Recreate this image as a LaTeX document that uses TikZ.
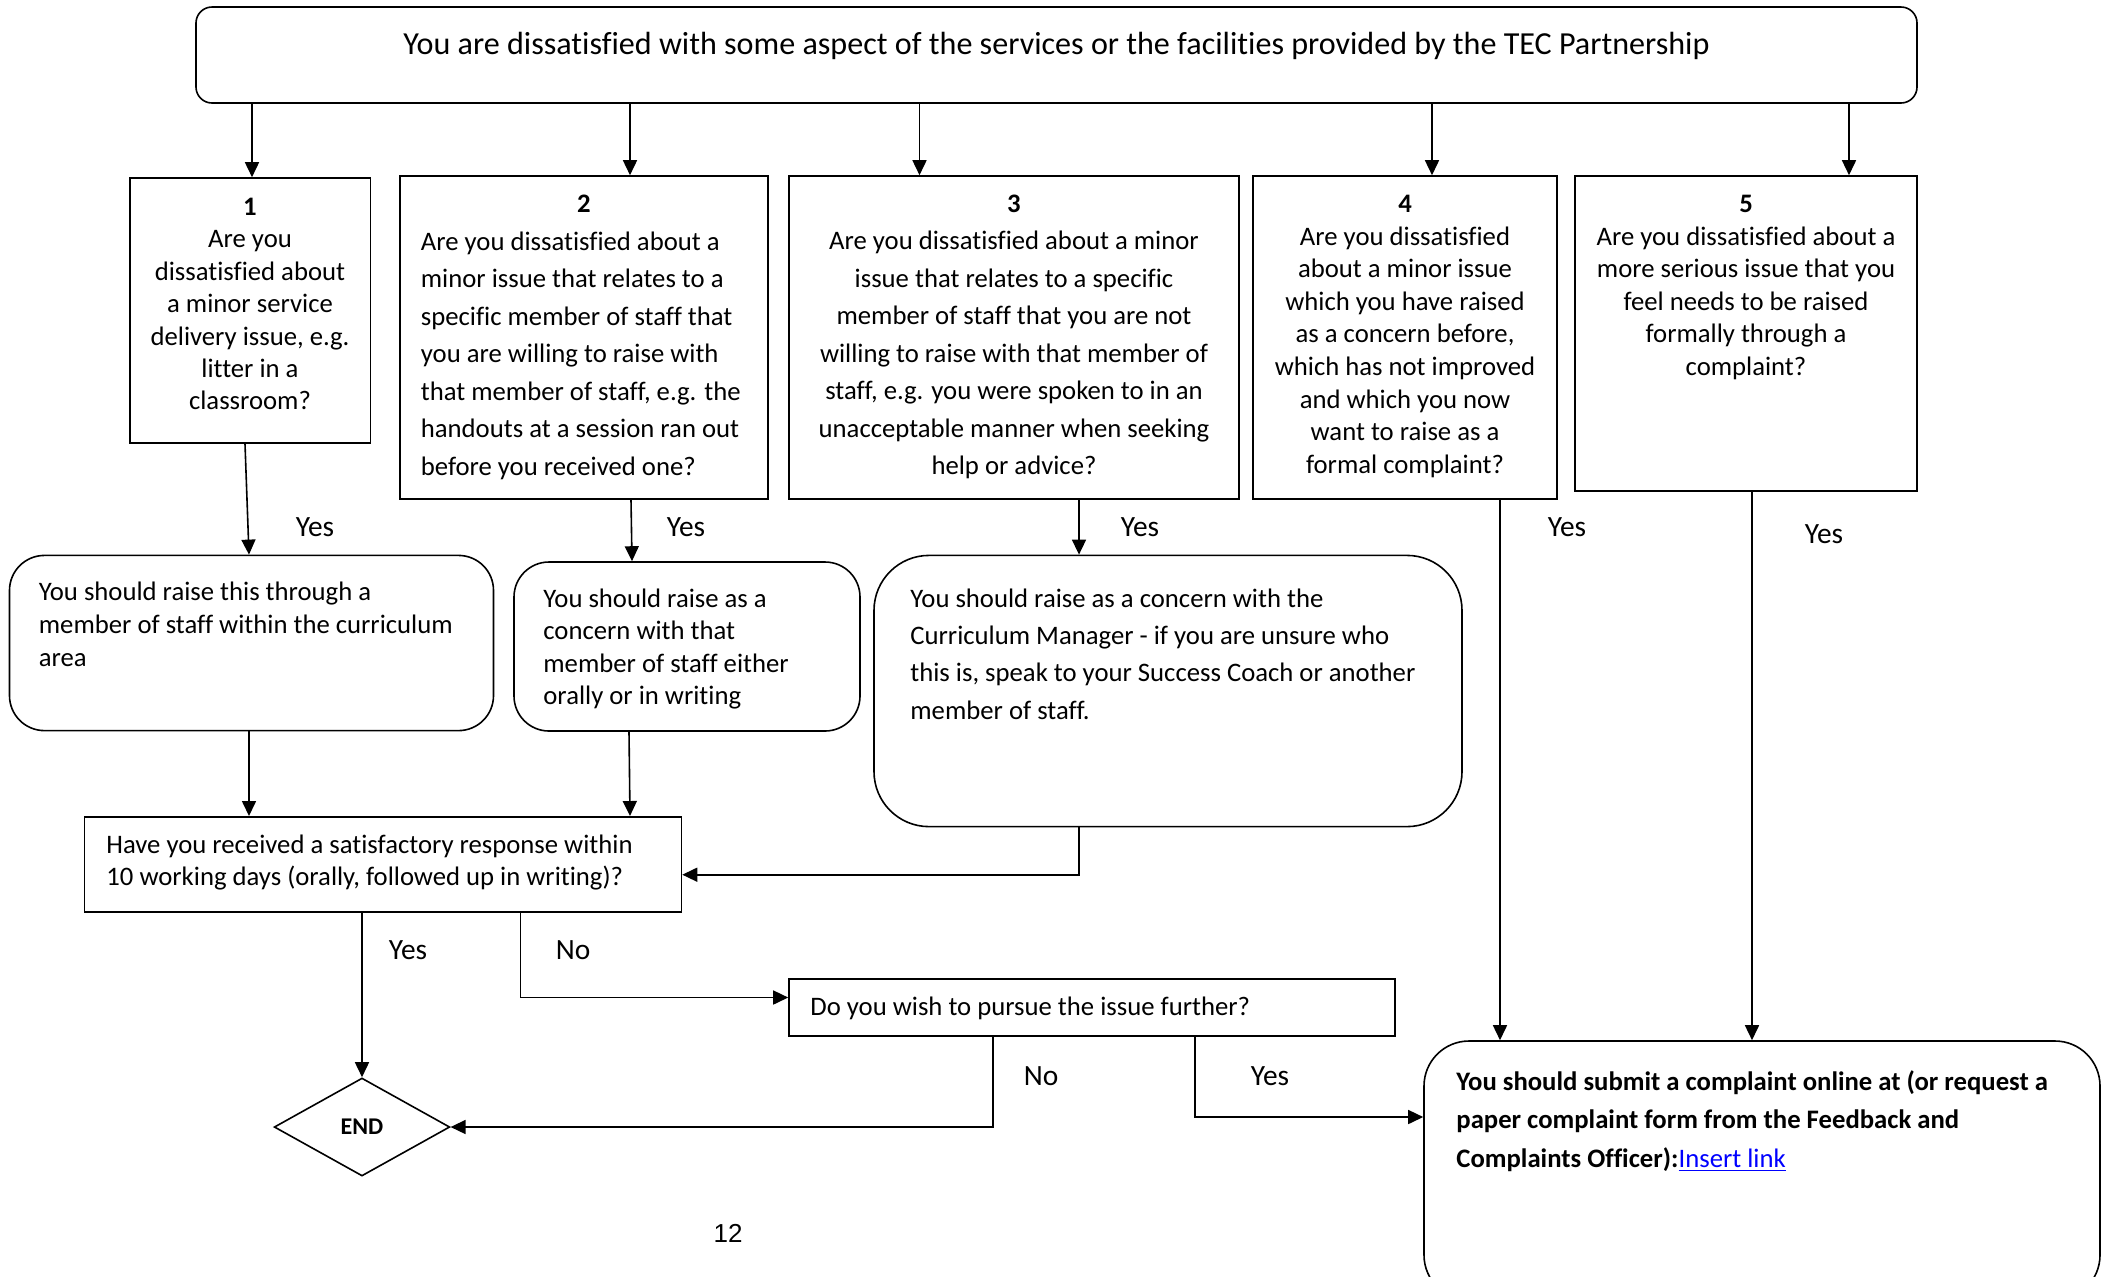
\documentclass[tikz,border=0pt]{standalone}
\usepackage{fontspec}
\setmainfont[Ligatures=NoCommon]{Carlito}
\newfontfamily\pagefont{Liberation Sans}
\usetikzlibrary{arrows.meta,shapes.geometric}
\newcommand\bodyfont[1]{\fontsize{13.35}{#1}\selectfont}
\newcommand\fr{\rule{0pt}{11pt}}
\begin{document}
\begin{tikzpicture}[x=0.5pt,y=-0.5pt,
  box/.style={draw, line width=0.8pt, inner sep=0pt},
  txt/.style={inner sep=0pt},
  arr/.style={line width=0.8pt, -{Triangle[length=7.5pt,width=7pt]}},
  ln/.style={line width=0.8pt},
  lbl/.style={inner sep=0pt, font=\fontsize{14.7}{17}\selectfont}]
\useasboundingbox (0,0) rectangle (2109,1276);
\fill[white] (0,0) rectangle (2109,1276);

% top box
\node[box, rounded corners=8pt, minimum width=860.5pt, minimum height=48pt] (top) at (1056.5,55) {};
\node[txt, anchor=center, font=\fontsize{16.05}{19}\selectfont] (toptxt) at (1056.5,46) {You are dissatisfied with some aspect of the services or the facilities provided by the TEC Partnership};

% question boxes
\node[box, minimum width=120.25pt, minimum height=132.5pt] (b1) at (250.25,310.5) {};
\node[txt, anchor=north, align=center, font=\bodyfont{16.2}] (b1t) at (250,193) {\fr\textbf{1}\\Are you\\dissatisfied about\\a minor service\\delivery issue, e.g.\\litter in a\\classroom?};

\node[box, minimum width=184pt, minimum height=161.5pt] (b2) at (584,337.5) {};
\node[txt, anchor=north, font=\bodyfont{16}] (b2n) at (584,190) {\fr\textbf{2}};
\node[txt, anchor=north west, align=left, font=\bodyfont{18.75}] (b2t) at (420.5,228) {\fr Are you dissatisfied about a\\minor issue that relates to a\\specific member of staff that\\you are willing to raise with\\that member of staff, e.g. the\\handouts at a session ran out\\before you received one?};

\node[box, minimum width=225pt, minimum height=161.5pt] (b3) at (1014,337.5) {};
\node[txt, anchor=north, align=center, font=\bodyfont{18.75}] (b3t) at (1014,190) {\fr\textbf{3}\\Are you dissatisfied about a minor\\issue that relates to a specific\\member of staff that you are not\\willing to raise with that member of\\staff, e.g. you were spoken to in an\\unacceptable manner when seeking\\help or advice?};

\node[box, minimum width=152pt, minimum height=161.5pt] (b4) at (1405,337.5) {};
\node[txt, anchor=north, align=center, font=\bodyfont{16.3}] (b4t) at (1405,190) {\fr\textbf{4}\\Are you dissatisfied\\about a minor issue\\which you have raised\\as a concern before,\\which has not improved\\and which you now\\want to raise as a\\formal complaint?};

\node[box, minimum width=171pt, minimum height=157.5pt] (b5) at (1746,333.5) {};
\node[txt, anchor=north, align=center, font=\bodyfont{16.3}] (b5t) at (1746,190) {\fr\textbf{5}\\Are you dissatisfied about a\\more serious issue that you\\feel needs to be raised\\formally through a\\complaint?};

% rounded action boxes
\node[box, rounded corners=17.5pt, minimum width=242pt, minimum height=87.6pt] (r1) at (251.5,643) {};
\node[txt, anchor=north west, align=left, font=\bodyfont{16.5}] (r1t) at (38.5,577.6) {\fr You should raise this through a\\member of staff within the curriculum\\area};

\node[box, rounded corners=17.5pt, minimum width=173pt, minimum height=84.5pt] (r2) at (687,646.5) {};
\node[txt, anchor=north west, align=left, font=\bodyfont{16.25}] (r2t) at (543,585) {\fr You should raise as a\\concern with that\\member of staff either\\orally or in writing};

\node[box, rounded corners=27.5pt, minimum width=294pt, minimum height=135.6pt] (r3) at (1168,691) {};
\node[txt, anchor=north west, align=left, font=\bodyfont{18.6}] (r3t) at (910,585) {\fr You should raise as a concern with the\\Curriculum Manager - if you are unsure who\\this is, speak to your Success Coach or another\\member of staff.};

% response question
\node[box, minimum width=298.5pt, minimum height=47.6pt] (q) at (383,864.4) {};
\node[txt, anchor=north west, align=left, font=\bodyfont{16}] (qt) at (106,831) {\fr Have you received a satisfactory response within\\10 working days (orally, followed up in writing)?};

% pursue question
\node[box, minimum width=303pt, minimum height=28.5pt] (do) at (1092,1007.2) {};
\node[txt, anchor=north west, font=\bodyfont{16}] (dot) at (810,993) {\fr Do you wish to pursue the issue further?};

% END
\node[box, diamond, aspect=1.8, minimum width=87.8pt, minimum height=49pt, font=\bfseries\fontsize{12}{14}\selectfont] (end) at (362,1127) {END};

% complaint box
\node[box, rounded corners=22.5pt, minimum width=338pt, minimum height=129.5pt] (comp) at (1762,1170.5) {};
\node[txt, anchor=north west, align=left, font=\bodyfont{19.25}\bfseries] (compt) at (1456,1068) {\fr You should submit a complaint online at (or request a\\paper complaint form from the Feedback and\\Complaints Officer):{\mdseries\textcolor{blue}{\underline{Insert link}}}};

% page number
\node[txt, font=\pagefont\fontsize{13}{15}\selectfont] (pg) at (728,1233) {12};

% connectors from top
\draw[arr] (top.south -| 252,0) -- (b1.north -| 252,0);
\draw[arr] (top.south -| 630,0) -- (b2.north -| 630,0);
\draw[arr] (top.south -| 919.5,0) -- (b3.north -| 919.5,0);
\draw[arr] (top.south -| 1432,0) -- (b4.north -| 1432,0);
\draw[arr] (top.south -| 1849,0) -- (b5.north -| 1849,0);

% question boxes to actions
\draw[arr] (b1.south -| 245,0) -- (r1.north -| 249,0);
\draw[arr] (b2.south -| 631,0) -- (r2.north -| 632,0);
\draw[arr] (b3.south -| 1079,0) -- (r3.north -| 1079,0);
\draw[arr] (b4.south -| 1500,0) -- (comp.north -| 1500,0);
\draw[arr] (b5.south -| 1752,0) -- (comp.north -| 1752,0);

\node[lbl] (y1) at (315,527) {Yes};
\node[lbl] (y2) at (686,527) {Yes};
\node[lbl] (y3) at (1140,527) {Yes};
\node[lbl] (y4) at (1567,527) {Yes};
\node[lbl] (y5) at (1824,534) {Yes};

% actions to response question
\draw[arr] (r1.south -| 249,0) -- (q.north -| 249,0);
\draw[arr] (r2.south -| 629,0) -- (q.north -| 630,0);
\draw[arr] (r3.south -| 1079,0) |- (q.east |- 0,874.7);

% response question outcomes
\draw[arr] (q.south -| end) -- (end.north);
\draw[arr] (q.south -| 520.6,0) |- (do.west |- 0,997.5);
\node[lbl] (qy) at (408,950) {Yes};
\node[lbl] (qn) at (573,950) {No};

% pursue outcomes
\draw[arr] (do.south -| 993,0) |- (end.east);
\draw[arr] (do.south -| 1195,0) |- (comp.west |- 0,1117);
\node[lbl] (dn) at (1041,1076) {No};
\node[lbl] (dy) at (1270,1076) {Yes};
\end{tikzpicture}
\end{document}
